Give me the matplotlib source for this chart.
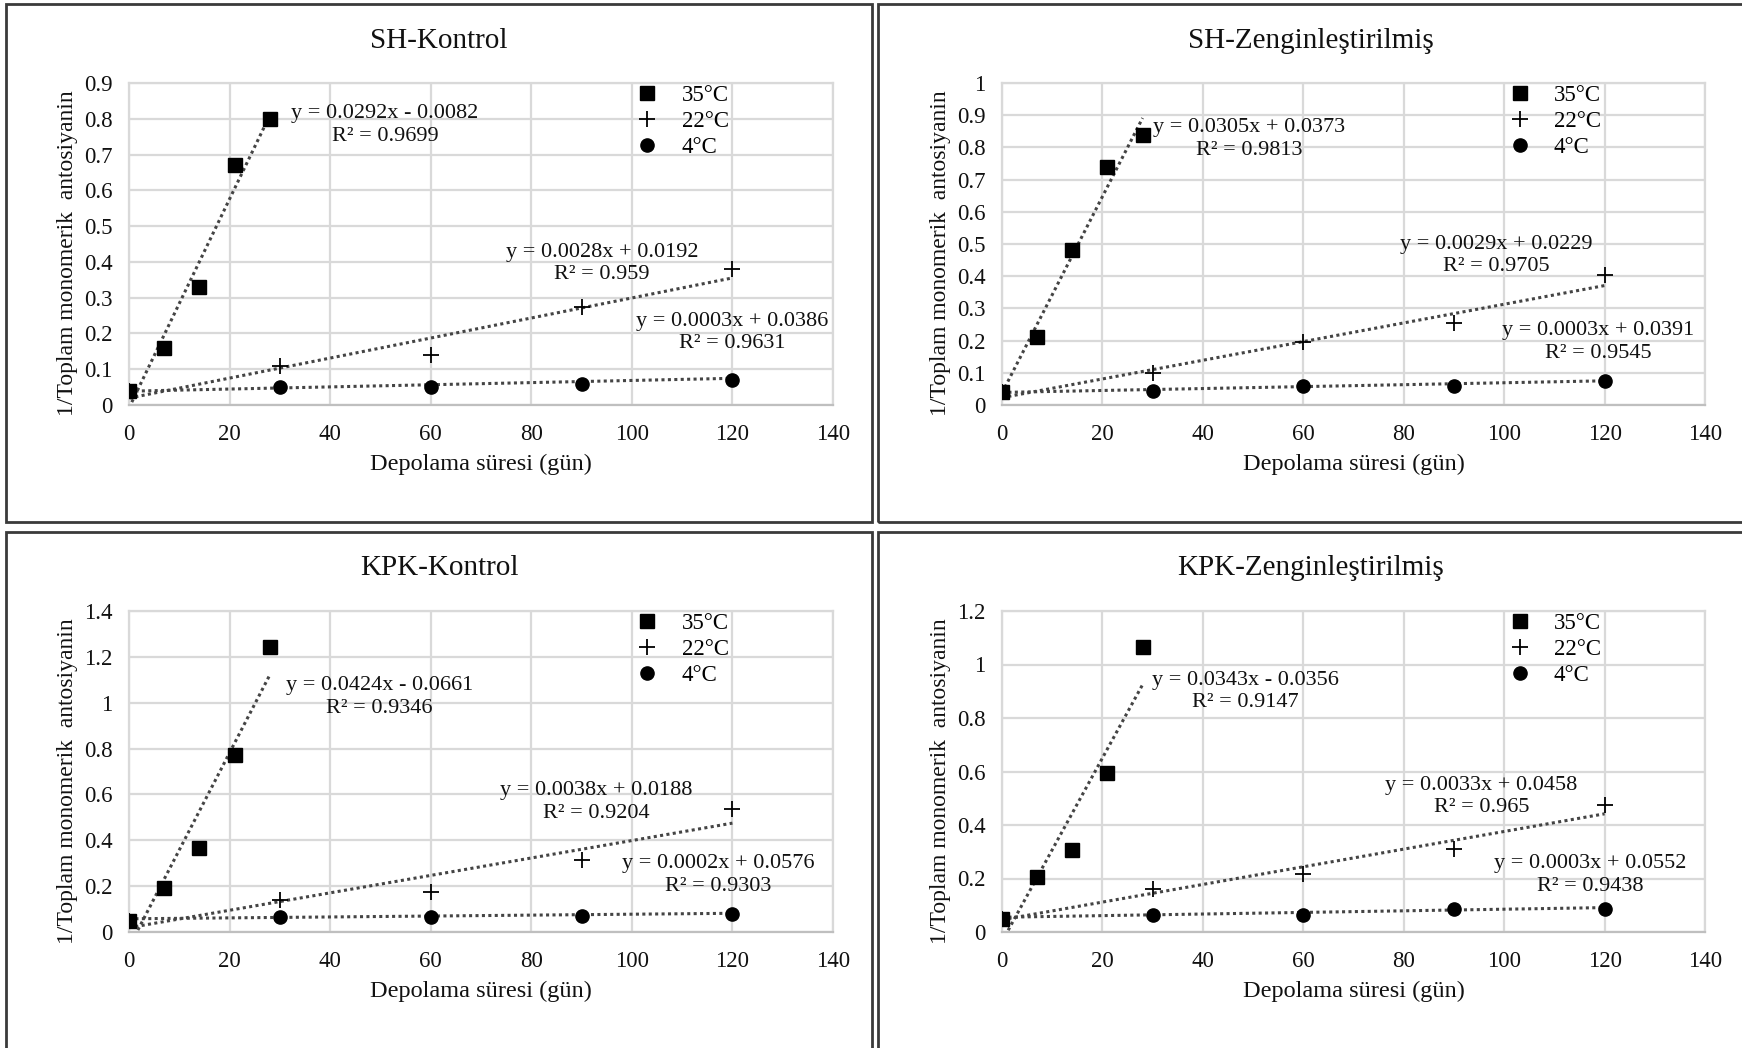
import matplotlib
matplotlib.use("Agg")
import matplotlib.pyplot as plt
from matplotlib.patches import Rectangle
from matplotlib.ticker import FuncFormatter
import numpy as np

plt.rcParams['font.family'] = ['Liberation Serif', 'DejaVu Serif']

titles = ["SH-Kontrol", "SH-Zenginleştirilmiş", "KPK-Kontrol", "KPK-Zenginleştirilmiş"]
temps = ["35°C", "22°C", "4°C"]

gun_35 = [0, 7, 14, 21, 28]
gun_diger = [0, 30, 60, 90, 120]

# 1/toplam monomerik antosiyanin values
sh_kontrol_35 = [0.04, 0.16, 0.33, 0.67, 0.80]
sh_kontrol_22 = [0.04, 0.11, 0.14, 0.275, 0.38]
sh_kontrol_4 = [0.04, 0.05, 0.05, 0.06, 0.07]

sh_zengin_35 = [0.04, 0.21, 0.48, 0.74, 0.84]
sh_zengin_22 = [0.04, 0.10, 0.195, 0.255, 0.405]
sh_zengin_4 = [0.04, 0.045, 0.06, 0.06, 0.075]

kpk_kontrol_35 = [0.05, 0.19, 0.365, 0.77, 1.245]
kpk_kontrol_22 = [0.05, 0.14, 0.175, 0.315, 0.535]
kpk_kontrol_4 = [0.05, 0.065, 0.065, 0.07, 0.08]

kpk_zengin_35 = [0.05, 0.205, 0.305, 0.595, 1.065]
kpk_zengin_22 = [0.05, 0.16, 0.215, 0.31, 0.475]
kpk_zengin_4 = [0.05, 0.065, 0.065, 0.085, 0.085]

# linear trendlines (slope, intercept, R2) per panel
slopes_35 = [0.0292, 0.0305, 0.0424, 0.0343]
intercepts_35 = [-0.0082, 0.0373, -0.0661, -0.0356]
r2_35 = [0.9699, 0.9813, 0.9346, 0.9147]
slopes_22 = [0.0028, 0.0029, 0.0038, 0.0033]
intercepts_22 = [0.0192, 0.0229, 0.0188, 0.0458]
r2_22 = [0.959, 0.9705, 0.9204, 0.965]
slopes_4 = [0.0003, 0.0003, 0.0002, 0.0003]
intercepts_4 = [0.0386, 0.0391, 0.0576, 0.0552]
r2_4 = [0.9631, 0.9545, 0.9303, 0.9438]

y_max = [0.9, 1.0, 1.4, 1.2]
y_step = [0.1, 0.1, 0.2, 0.2]

# where the equation labels sit (data coords)
eq_pos = [
    [(50.9, 0.783), (94.1, 0.396), (119.9, 0.203)],
    [(49.2, 0.826), (98.5, 0.464), (118.8, 0.195)],
    [(49.8, 1.026), (93.0, 0.566), (117.1, 0.249)],
    [(48.5, 0.900), (95.5, 0.506), (117.1, 0.214)],
]

panels = [
    (sh_kontrol_35, sh_kontrol_22, sh_kontrol_4),
    (sh_zengin_35, sh_zengin_22, sh_zengin_4),
    (kpk_kontrol_35, kpk_kontrol_22, kpk_kontrol_4),
    (kpk_zengin_35, kpk_zengin_22, kpk_zengin_4),
]

W, H = 1742, 1048
fig = plt.figure(figsize=(W / 100, H / 100), dpi=100)


def px_rect(x0, y0, x1, y1):
    # pixel box (top-left origin) -> figure fraction rect
    return [x0 / W, 1 - y1 / H, (x1 - x0) / W, (y1 - y0) / H]


axes_px = [(129, 83, 833, 405), (1002, 83, 1705, 405),
           (129, 611, 833, 932), (1002, 611, 1705, 932)]
boxes_px = [(6, 4, 872, 522), (878, 4, 1746, 522),
            (6, 532, 872, 1052), (878, 532, 1746, 1052)]
title_px = [(439, 41), (1311, 41), (439, 568), (1311, 568)]


def equation(m, b, r2):
    sign = "-" if b < 0 else "+"
    return f"y = {m:.4f}x {sign} {abs(b):.4f}\nR² = {r2:g}"


def fmt(v, pos):
    return f"{round(v, 2):g}"


for i in range(4):
    bx = boxes_px[i]
    fig.add_artist(Rectangle((bx[0] / W, 1 - bx[3] / H), (bx[2] - bx[0]) / W,
                             (bx[3] - bx[1]) / H, transform=fig.transFigure,
                             fill=False, edgecolor="#3a3a3a", linewidth=2.0))
    fig.text(title_px[i][0] / W, 1 - title_px[i][1] / H, titles[i],
             ha="center", va="center", fontsize=21, color="#111111")

    ax = fig.add_axes(px_rect(*axes_px[i]))
    v35, v22, v4 = panels[i]

    ax.plot(gun_35, v35, linestyle="none", marker="s", markersize=9.5,
            color="black", label=temps[0], zorder=3)
    ax.plot(gun_diger, v22, linestyle="none", marker="+", markersize=11,
            markeredgewidth=1.3, color="black", label=temps[1], zorder=3)
    ax.plot(gun_diger, v4, linestyle="none", marker="o", markersize=9.5,
            color="black", label=temps[2], zorder=3)

    trends = [(gun_35, slopes_35[i], intercepts_35[i], r2_35[i]),
              (gun_diger, slopes_22[i], intercepts_22[i], r2_22[i]),
              (gun_diger, slopes_4[i], intercepts_4[i], r2_4[i])]
    for k, (xs, m, b, r2) in enumerate(trends):
        xx = np.array([xs[0], xs[-1]], dtype=float)
        ax.plot(xx, m * xx + b, linestyle=(0, (1, 1.1)), linewidth=2.2,
                color="#444444", zorder=2)
        ax.text(eq_pos[i][k][0], eq_pos[i][k][1], equation(m, b, r2),
                ha="center", va="center", multialignment="center",
                fontsize=16, linespacing=1.25, color="#111111")

    ax.set_xlim(0, 140)
    ax.set_ylim(0, y_max[i])
    ax.set_xticks(np.arange(0, 141, 20))
    ax.set_yticks(np.arange(0, y_max[i] + 1e-9, y_step[i]))
    ax.yaxis.set_major_formatter(FuncFormatter(fmt))
    ax.grid(True, color="#d9d9d9", linewidth=1.6)
    ax.set_axisbelow(True)
    for s in ax.spines.values():
        s.set_color("#d9d9d9")
        s.set_linewidth(1.6)
    ax.spines["bottom"].set_color("#bfbfbf")
    ax.tick_params(length=0, labelsize=16.5, colors="#111111")
    ax.tick_params(axis="x", pad=13.5)
    ax.tick_params(axis="y", pad=12)

    ax.set_xlabel("Depolama süresi (gün)", fontsize=17.5, color="#111111")
    ax.xaxis.set_label_coords(0.5, -0.152)
    ax.set_ylabel("1/Toplam monomerik  antosiyanin", fontsize=17, color="#111111")
    ax.yaxis.set_label_coords(-0.072, 0.47)

    ax.legend(loc="upper left", bbox_to_anchor=(0.72, 0.995), frameon=False,
              fontsize=16.5, handlelength=1.0, handletextpad=1.0,
              labelspacing=0.22, borderpad=0, borderaxespad=0)

fig.savefig("out.png", dpi=100)
